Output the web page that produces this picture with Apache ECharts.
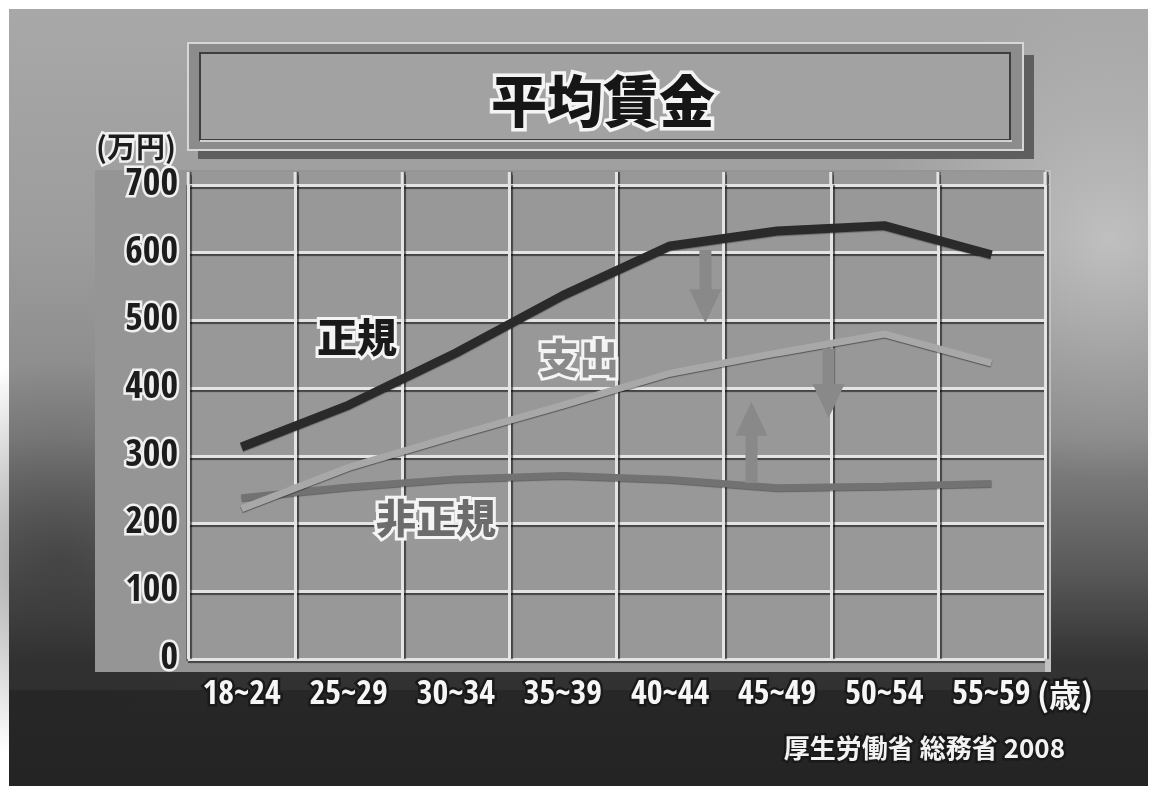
<!DOCTYPE html>
<html>
<head>
<meta charset="utf-8">
<script src="https://cdn.jsdelivr.net/npm/echarts@6/dist/echarts.min.js"></script>
<style>
  html, body { margin: 0; padding: 0; background: #ffffff; }
  #chart { width: 1151px; height: 789px; }
</style>
</head>
<body>
<div id="chart"></div>
<script>
// Age groups (歳) and average annual wages / spending (万円)
const categories = ['18~24', '25~29', '30~34', '35~39', '40~44', '45~49', '50~54', '55~59'];
const regular    = [313, 375, 452, 537, 610, 632, 640, 597];   // 正規
const spending   = [222, 283, 330, 375, 422, 452, 480, 437];   // 支出
const nonRegular = [238, 254, 266, 271, 265, 253, 255, 259];   // 非正規
const yMin = 0, yMax = 700, yStep = 100;

const titleText = '平均賃金';
const yUnit = '(万円)';
const xUnit = '(歳)';
const sourceText = '厚生労働省 総務省 2008';
const seriesNames = ['正規', '支出', '非正規'];

const CJK = '"Noto Sans CJK JP", "Noto Sans CJK SC", sans-serif';

// pick the narrowest installed face for the numeric axis labels
function hasFont(name) {
  const c = document.createElement('canvas').getContext('2d');
  const probe = '18~24 0123456789';
  return ['monospace', 'serif'].every(function (fb) {
    c.font = 'bold 40px ' + fb;
    const w0 = c.measureText(probe).width;
    c.font = 'bold 40px "' + name + '", ' + fb;
    return Math.abs(c.measureText(probe).width - w0) > 0.5;
  });
}
const narrowCandidates = ['Noto Sans ExtraCondensed', 'Noto Sans Condensed', 'Open Sans Condensed',
  'Liberation Sans Narrow', 'Roboto Condensed', 'DejaVu Sans Condensed'];
const narrow = narrowCandidates.filter(hasFont)[0];
const NUM = narrow ? '"' + narrow + '", sans-serif' : 'Roboto, sans-serif';
const numScale = narrow ? 1 : 0.8;

const chart = echarts.init(document.getElementById('chart'), null, { renderer: 'canvas' });

const hGrid = { color: '#e4e4e4', width: 3, shadowColor: 'rgba(0,0,0,0.55)', shadowBlur: 1, shadowOffsetY: 2 };
const vGrid = { color: '#e4e4e4', width: 3, shadowColor: 'rgba(0,0,0,0.55)', shadowBlur: 1, shadowOffsetX: 2 };

chart.setOption({
  animation: false,
  grid: { left: 188, right: 106, top: 185, bottom: 130 },
  xAxis: {
    type: 'category',
    data: categories,
    boundaryGap: true,
    axisLine: { show: false },
    axisTick: { show: false },
    axisLabel: {
      interval: 0, margin: narrow ? 19 : 22,
      color: '#f6f6f6', fontSize: Math.round(34 * numScale), fontWeight: 'bold', fontFamily: NUM,
      textBorderColor: '#1a1a1a', textBorderWidth: 5
    },
    splitLine: { show: true, interval: 0, lineStyle: vGrid },
    name: xUnit,
    nameLocation: 'end',
    nameGap: -8,
    nameMoveOverlap: false,
    nameTextStyle: {
      color: '#f6f6f6', fontSize: 32, fontWeight: 'bold', fontFamily: CJK,
      textBorderColor: '#1a1a1a', textBorderWidth: 5,
      align: 'left', verticalAlign: 'top', padding: [20, 0, 0, 0]
    }
  },
  yAxis: {
    type: 'value',
    min: yMin, max: yMax, interval: yStep,
    axisLine: { show: false },
    axisTick: { show: false },
    axisLabel: {
      margin: 10,
      color: '#1c1c1c', fontSize: Math.round(38 * numScale), fontWeight: 'bold', fontFamily: NUM,
      textBorderColor: '#f0f0f0', textBorderWidth: 5
    },
    splitLine: { show: true, lineStyle: hGrid },
    name: yUnit,
    nameLocation: 'end',
    nameGap: 38,
    nameMoveOverlap: false,
    nameTextStyle: {
      color: '#1c1c1c', fontSize: 29, fontWeight: 'bold', fontFamily: CJK,
      textBorderColor: '#f0f0f0', textBorderWidth: 5,
      align: 'right', verticalAlign: 'middle', padding: [0, 12, 0, 0]
    }
  },
  series: [
    {
      name: seriesNames[2], type: 'line', data: nonRegular, symbol: 'none', z: 3,
      lineStyle: { color: '#727272', width: 7, shadowColor: 'rgba(0,0,0,0.35)', shadowBlur: 1, shadowOffsetY: 1 },
      emphasis: { disabled: true }
    },
    {
      name: seriesNames[1], type: 'line', data: spending, symbol: 'none', z: 4,
      lineStyle: { color: '#a8a8a8', width: 7, shadowColor: 'rgba(0,0,0,0.45)', shadowBlur: 1, shadowOffsetY: 1 },
      emphasis: { disabled: true }
    },
    {
      name: seriesNames[0], type: 'line', data: regular, symbol: 'none', z: 5,
      lineStyle: { color: '#2a2a2a', width: 9, shadowColor: 'rgba(0,0,0,0.3)', shadowBlur: 1, shadowOffsetY: 1 },
      emphasis: { disabled: true }
    }
  ]
});

// ---- decoration: backdrop, framed title, annotations ----
function at(idx, val) {
  const i0 = Math.floor(idx), f = idx - i0;
  const p0 = chart.convertToPixel({ gridIndex: 0 }, [i0, val]);
  const p1 = chart.convertToPixel({ gridIndex: 0 }, [i0 + 1, val]);
  return [p0[0] + (p1[0] - p0[0]) * f, p0[1]];
}

function arrow(idx, fromVal, toVal, id) {
  const a = at(idx, fromVal), b = at(idx, toVal);
  const x = a[0], y0 = a[1], y1 = b[1];
  const dir = y1 > y0 ? 1 : -1;
  const shaft = 6, head = 16, headLen = 34;
  const yb = y1 - dir * headLen;
  return {
    type: 'polygon', id: id, z: 20, silent: true,
    shape: { points: [[x - shaft, y0], [x - shaft, yb], [x - head, yb], [x, y1], [x + head, yb], [x + shaft, yb], [x + shaft, y0]] },
    style: { fill: '#898989' }
  };
}

const tl = chart.convertToPixel({ gridIndex: 0 }, [0, yMax]);
const br = chart.convertToPixel({ gridIndex: 0 }, [categories.length - 1, yMin]);
const band = chart.convertToPixel({ gridIndex: 0 }, [1, yMin])[0] - chart.convertToPixel({ gridIndex: 0 }, [0, yMin])[0];
const plotL = tl[0] - band / 2, plotR = br[0] + band / 2, plotT = tl[1], plotB = br[1];

function label(text, x, y, fill, size) {
  return {
    type: 'text', z: 25, silent: true, x: x, y: y,
    style: {
      text: text, font: '900 ' + size + 'px ' + CJK, fill: fill,
      stroke: '#f4f4f4', lineWidth: 6, align: 'center', verticalAlign: 'middle'
    }
  };
}

// short vertical stubs carrying the grid columns up to the panel's top edge
const stubs = [];
for (let i = 0; i <= categories.length; i++) {
  const x = plotL + band * i;
  stubs.push({ type: 'line', z: -8, silent: true,
    shape: { x1: x, y1: plotT - 13, x2: x, y2: plotT },
    style: { stroke: '#e4e4e4', lineWidth: 3, shadowColor: 'rgba(0,0,0,0.55)', shadowBlur: 1, shadowOffsetX: 2 } });
}

const graphic = [
  // photo-like backdrop
  { type: 'rect', z: -20, silent: true, shape: { x: 0, y: 0, width: 1151, height: 789 }, style: { fill: '#ffffff' } },
  { type: 'rect', z: -19, silent: true, shape: { x: 9, y: 9, width: 1139, height: 777 },
    style: { fill: new echarts.graphic.LinearGradient(0, 0, 0, 1, [
      { offset: 0, color: '#a8a8a8' }, { offset: 0.3, color: '#9c9c9c' },
      { offset: 0.55, color: '#868686' }, { offset: 0.72, color: '#5a5a5a' },
      { offset: 0.84, color: '#333333' }, { offset: 1, color: '#2a2a2a' }]) } },
  { type: 'circle', z: -18, silent: true, shape: { cx: 1110, cy: 240, r: 240 },
    style: { fill: new echarts.graphic.RadialGradient(0.5, 0.5, 0.5, [
      { offset: 0, color: 'rgba(215,215,215,0.6)' }, { offset: 1, color: 'rgba(200,200,200,0)' }]) } },
  { type: 'circle', z: -18, silent: true, shape: { cx: 60, cy: 560, r: 200 },
    style: { fill: new echarts.graphic.RadialGradient(0.5, 0.5, 0.5, [
      { offset: 0, color: 'rgba(40,40,40,0.45)' }, { offset: 1, color: 'rgba(40,40,40,0)' }]) } },
  { type: 'rect', z: -18, silent: true, shape: { x: 9, y: 690, width: 1139, height: 96 }, style: { fill: 'rgba(30,30,30,0.5)' } },

  // chart panel
  { type: 'rect', z: -15, silent: true, shape: { x: 95, y: plotT - 15, width: plotR - 95 + 6, height: plotB - plotT + 28 }, style: { fill: '#959595' } },
  { type: 'rect', z: -14, silent: true, shape: { x: plotL, y: plotT - 13, width: plotR - plotL, height: plotB - plotT + 15 }, style: { fill: '#989898' } },
  { type: 'rect', z: -13, silent: true, shape: { x: plotL - 2, y: plotT - 13, width: 2, height: plotB - plotT + 15 }, style: { fill: 'rgba(60,60,60,0.45)' } },
  { type: 'rect', z: -13, silent: true, shape: { x: plotR, y: plotT - 15, width: 6, height: plotB - plotT + 28 }, style: { fill: '#c2c2c2' } },

  // framed title plate
  { type: 'rect', z: -12, silent: true, shape: { x: 198, y: 55, width: 836, height: 104 }, style: { fill: '#5e5e5e' } },
  { type: 'rect', z: -11, silent: true, shape: { x: 188, y: 43, width: 835, height: 107 }, style: { fill: '#8c8c8c', stroke: '#d6d6d6', lineWidth: 2 } },
  { type: 'rect', z: -10, silent: true, shape: { x: 200, y: 53, width: 810, height: 87 }, style: { fill: '#a2a2a2', stroke: '#3e3e3e', lineWidth: 2 } },
  { type: 'rect', z: -9, silent: true, shape: { x: 200, y: 140, width: 812, height: 2 }, style: { fill: '#d0d0d0' } },
  { type: 'text', z: 30, silent: true, x: 603, y: 101,
    style: { text: titleText, font: '900 56px ' + CJK, fill: '#161616', stroke: '#f4f4f4', lineWidth: 7,
      align: 'center', verticalAlign: 'middle',
      shadowColor: 'rgba(0,0,0,0.55)', shadowOffsetX: 3, shadowOffsetY: 3, shadowBlur: 2 } }
].concat(stubs, [
  // series labels
  label(seriesNames[0], 357, 337, '#1a1a1a', 40),
  label(seriesNames[1], 579, 358, '#8a8a8a', 40),
  label(seriesNames[2], 436, 518, '#6c6c6c', 40),

  // change arrows between series
  arrow(4.33, 604, 496, 'a1'),
  arrow(4.76, 260, 380, 'a2'),
  arrow(5.48, 459, 356, 'a3'),

  // source
  { type: 'text', z: 30, silent: true, x: 1065, y: 748,
    style: { text: sourceText, font: 'bold 26px ' + CJK, fill: '#f2f2f2', stroke: '#1a1a1a', lineWidth: 5,
      align: 'right', verticalAlign: 'middle' } }
]);

chart.setOption({ graphic: graphic });
</script>
</body>
</html>
